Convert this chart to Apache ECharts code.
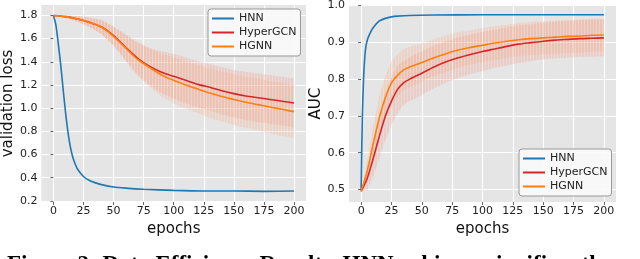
<!DOCTYPE html>
<html><head><meta charset="utf-8">
<script src="https://cdn.jsdelivr.net/npm/echarts@6/dist/echarts.min.js"></script>
<style>html,body{margin:0;padding:0;background:#fff}#c{width:640px;height:259px}</style>
</head><body><div id="c"></div>
<script>
// ---------- data ----------
const xTicks = [0, 25, 50, 75, 100, 125, 150, 175, 200];
const lossTicks = [0.2, 0.4, 0.6, 0.8, 1.0, 1.2, 1.4, 1.6, 1.8];
const aucTicks = [0.5, 0.6, 0.7, 0.8, 0.9, 1.0];
const seriesNames = ['HNN', 'HyperGCN', 'HGNN'];

// left panel: validation loss
const hnnLossEpochs = [0, 2, 4, 6, 8, 10, 12, 14, 16, 18, 20, 25, 30, 35, 40, 50, 60, 75, 100, 125, 150, 175, 200];
const hnnLoss = [1.8, 1.72, 1.56, 1.38, 1.17, 0.97, 0.8, 0.67, 0.58, 0.52, 0.475, 0.41, 0.375, 0.355, 0.34, 0.32, 0.31, 0.3, 0.29, 0.285, 0.285, 0.282, 0.285];
const gcnLossEpochs = [0, 10, 20, 30, 40, 50, 60, 70, 80, 90, 100, 110, 120, 130, 140, 150, 160, 170, 180, 190, 200];
const gcnLoss = [1.8, 1.79, 1.77, 1.74, 1.70, 1.625, 1.525, 1.43, 1.36, 1.31, 1.275, 1.24, 1.205, 1.18, 1.15, 1.125, 1.105, 1.09, 1.075, 1.06, 1.045];
const gcnLossStd = [0, 0.01, 0.025, 0.04, 0.06, 0.08, 0.11, 0.14, 0.16, 0.18, 0.195, 0.2, 0.2, 0.2, 0.205, 0.205, 0.21, 0.21, 0.21, 0.21, 0.21];
const hgnnLossEpochs = [0, 10, 20, 30, 40, 50, 60, 70, 80, 90, 100, 110, 120, 130, 140, 150, 160, 170, 180, 190, 200];
const hgnnLoss = [1.8, 1.79, 1.77, 1.74, 1.70, 1.62, 1.52, 1.42, 1.35, 1.285, 1.24, 1.2, 1.165, 1.13, 1.10, 1.075, 1.05, 1.03, 1.01, 0.99, 0.97];
const hgnnLossStd = [0, 0.01, 0.025, 0.04, 0.06, 0.085, 0.115, 0.145, 0.165, 0.185, 0.2, 0.205, 0.21, 0.215, 0.215, 0.22, 0.22, 0.225, 0.225, 0.23, 0.23];

// right panel: AUC
const hnnAucEpochs = [0, 1, 2, 3, 4, 5, 7, 10, 15, 20, 25, 30, 40, 60, 100, 150, 200];
const hnnAuc = [0.5, 0.7, 0.8, 0.86, 0.89, 0.905, 0.922, 0.94, 0.958, 0.965, 0.969, 0.971, 0.973, 0.974, 0.975, 0.975, 0.975];
const gcnAucEpochs = [0, 5, 10, 15, 20, 25, 30, 35, 40, 50, 60, 70, 80, 90, 100, 110, 120, 130, 140, 150, 160, 170, 180, 190, 200];
const gcnAuc = [0.495, 0.53, 0.585, 0.645, 0.70, 0.74, 0.772, 0.79, 0.80, 0.816, 0.833, 0.847, 0.858, 0.867, 0.875, 0.882, 0.889, 0.895, 0.899, 0.903, 0.906, 0.908, 0.91, 0.911, 0.912];
const gcnAucStd = [0, 0.03, 0.05, 0.06, 0.065, 0.065, 0.065, 0.06, 0.06, 0.06, 0.058, 0.056, 0.055, 0.054, 0.053, 0.052, 0.052, 0.051, 0.05, 0.05, 0.05, 0.05, 0.05, 0.05, 0.05];
const hgnnAucEpochs = [0, 5, 10, 15, 20, 25, 30, 35, 40, 50, 60, 70, 80, 90, 100, 110, 120, 130, 140, 150, 160, 170, 180, 190, 200];
const hgnnAuc = [0.495, 0.55, 0.625, 0.695, 0.75, 0.79, 0.81, 0.825, 0.833, 0.845, 0.858, 0.869, 0.879, 0.886, 0.892, 0.898, 0.903, 0.907, 0.91, 0.912, 0.914, 0.916, 0.917, 0.919, 0.92];
const hgnnAucStd = [0, 0.03, 0.05, 0.06, 0.06, 0.06, 0.058, 0.056, 0.055, 0.052, 0.05, 0.05, 0.048, 0.047, 0.046, 0.046, 0.045, 0.045, 0.045, 0.045, 0.045, 0.045, 0.045, 0.045, 0.045];

const caption = 'Figure 2: Data Efficiency Results. HNN achieves significantly';

// ---------- styling ----------
const colors = {HNN: '#1f77b4', HyperGCN: '#d62728', HGNN: '#ff7f0e'};
const FONT = 'DejaVu Sans';
const BG = '#e5e5e5';

function stripePattern(rgb) {
  const cv = document.createElement('canvas');
  cv.width = 3; cv.height = 4;
  const ctx = cv.getContext('2d');
  ctx.fillStyle = 'rgba(' + rgb + ',0.30)';
  ctx.fillRect(0, 0, 2, 4);
  ctx.fillStyle = 'rgba(' + rgb + ',0.12)';
  ctx.fillRect(2, 0, 1, 4);
  return {image: cv, repeat: 'repeat'};
}

const pairs = (xs, ys) => xs.map((x, i) => [x, ys[i]]);

// error band: one polygon through the library's coordinate system
function band(idx, xs, m, s, rgb) {
  const pattern = stripePattern(rgb);
  return {
    type: 'custom', xAxisIndex: idx, yAxisIndex: idx, silent: true, z: 1,
    data: xs.map((x, i) => [x, m[i] - s[i], m[i] + s[i]]),
    encode: {x: 0, y: [1, 2]},
    renderItem: function (params, api) {
      if (params.dataIndex !== 0) return null;
      const upper = xs.map((x, i) => api.coord([x, m[i] + s[i]]));
      const lower = xs.map((x, i) => api.coord([x, m[i] - s[i]])).reverse();
      return {type: 'polygon', shape: {points: upper.concat(lower)},
        style: {fill: pattern, stroke: null}};
    }
  };
}
function line(idx, name, xs, ys, z) {
  return {type: 'line', name: name, xAxisIndex: idx, yAxisIndex: idx, data: pairs(xs, ys),
    symbol: 'none', smooth: 0.25, color: colors[name], lineStyle: {width: 1.6, color: colors[name]}, z: z};
}

const fmt1 = v => v.toFixed(1);
function xAxis(idx) {
  return {type: 'value', gridIndex: idx, min: -10, max: 210,
    name: 'epochs', nameLocation: 'middle', nameGap: 17,
    nameTextStyle: {fontFamily: FONT, fontSize: 15, color: '#111'},
    axisLine: {show: false},
    axisTick: {show: true, length: 3, customValues: xTicks, lineStyle: {color: '#666'}},
    axisLabel: {customValues: xTicks, fontFamily: FONT, fontSize: 11, color: '#222', margin: 4},
    splitLine: {show: true, lineStyle: {color: '#fff', width: 1.1}}};
}
function yAxis(idx, name, min, max, ticks, gap) {
  return {type: 'value', gridIndex: idx, min: min, max: max,
    name: name, nameLocation: 'middle', nameGap: gap,
    nameTextStyle: {fontFamily: FONT, fontSize: 15, color: '#111'},
    axisLine: {show: false},
    axisTick: {show: true, length: 3, customValues: ticks, lineStyle: {color: '#666'}},
    axisLabel: {customValues: ticks, formatter: fmt1, fontFamily: FONT, fontSize: 11, color: '#222', margin: 4},
    splitLine: {show: true, lineStyle: {color: '#fff', width: 1.1}}};
}
function legend(left, top) {
  return {data: seriesNames, orient: 'vertical', left: left, top: top, icon: 'rect',
    itemWidth: 22, itemHeight: 2, itemGap: 3,
    padding: [4, 4, 4, 4],
    backgroundColor: 'rgba(250,250,250,0.92)', borderColor: '#999', borderWidth: 1, borderRadius: 3,
    textStyle: {fontFamily: FONT, fontSize: 11, color: '#222', padding: [0, 0, 0, 0]}};
}

const chart = echarts.init(document.getElementById('c'), null, {renderer: 'canvas'});
chart.setOption({
  animation: false,
  backgroundColor: '#fff',
  grid: [
    {left: 39, top: 5, width: 267, height: 197, show: true, backgroundColor: BG, borderWidth: 0},
    {left: 349, top: 5, width: 267, height: 197, show: true, backgroundColor: BG, borderWidth: 0}
  ],
  xAxis: [xAxis(0), xAxis(1)],
  yAxis: [yAxis(0, 'validation loss', 0.19, 1.89, lossTicks, 21), yAxis(1, 'AUC', 0.466, 1.0, aucTicks, 25)],
  legend: [legend(208, 9), legend(519, 149)],
  series: [
    band(0, gcnLossEpochs, gcnLoss, gcnLossStd, '245,150,130'),
    band(0, hgnnLossEpochs, hgnnLoss, hgnnLossStd, '250,170,130'),
    band(1, gcnAucEpochs, gcnAuc, gcnAucStd, '245,150,130'),
    band(1, hgnnAucEpochs, hgnnAuc, hgnnAucStd, '250,170,130'),
    line(0, 'HNN', hnnLossEpochs, hnnLoss, 3),
    line(0, 'HyperGCN', gcnLossEpochs, gcnLoss, 4),
    line(0, 'HGNN', hgnnLossEpochs, hgnnLoss, 5),
    line(1, 'HNN', hnnAucEpochs, hnnAuc, 3),
    line(1, 'HyperGCN', gcnAucEpochs, gcnAuc, 4),
    line(1, 'HGNN', hgnnAucEpochs, hgnnAuc, 5)
  ],
  graphic: [{type: 'text', left: 7, top: 254,
    style: {text: caption, font: 'bold 23px "Liberation Serif"', fill: '#000'}}]
});
</script></body></html>
